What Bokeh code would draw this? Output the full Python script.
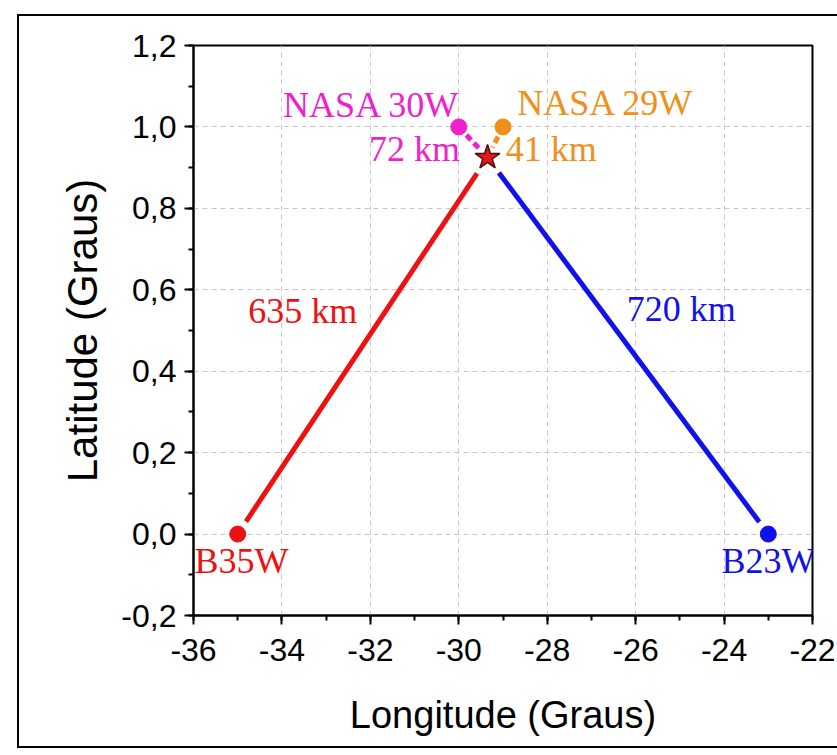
import numpy as np
from bokeh.plotting import figure
from bokeh.models import CustomJSTickFormatter, FixedTicker, Label
from bokeh.embed import file_html
from bokeh.resources import INLINE

# ---- data ----
buoy_names = ["B35W", "B23W"]
buoy_lon = [-35.0, -23.0]
buoy_lat = [0.0, 0.0]
buoy_colors = ["#ee1111", "#1111ee"]
buoy_dist = ["635 km", "720 km"]

nasa_names = ["NASA 30W", "NASA 29W"]
nasa_lon = [-30.0, -29.0]
nasa_lat = [1.0, 1.0]
nasa_colors = ["#ee22cc", "#f0901a"]
nasa_dist = ["72 km", "41 km"]

star_lon = [-29.35]
star_lat = [0.925]

x_range = (-36, -22)
y_range = (-0.2, 1.2)
x_ticks = [-36, -34, -32, -30, -28, -26, -24, -22]
y_ticks = [-0.2, 0.0, 0.2, 0.4, 0.6, 0.8, 1.0, 1.2]

W, H = 837, 755
ML, MR, MT, MB = 193, 25, 45, 140
FW, FH = W - ML - MR, H - MT - MB
sx = FW / (x_range[1] - x_range[0])
sy = FH / (y_range[1] - y_range[0])

p = figure(width=W, height=H, x_range=x_range, y_range=y_range,
           output_backend="svg", toolbar_location=None,
           min_border_left=ML, min_border_right=MR, min_border_top=MT, min_border_bottom=MB)
p.border_fill_alpha = 0
# outer picture frame drawn as CSS background lines behind the transparent canvas
g = "linear-gradient(#000,#000)"
p.styles = {
    "background": (f"{g} 17px 14px / 2px 734px no-repeat, "
                   f"{g} 17px 14px / 820px 2px no-repeat, "
                   f"{g} 17px 746px / 820px 2px no-repeat, #ffffff"),
}

p.outline_line_color = "black"
p.outline_line_width = 2
p.outline_line_alpha = 1

for ax in (p.xaxis[0], p.yaxis[0]):
    ax.axis_line_width = 2
    ax.major_tick_line_width = 2
    ax.minor_tick_line_width = 2
    ax.major_tick_out = 9
    ax.major_tick_in = 0
    ax.minor_tick_out = 5
    ax.minor_tick_in = 0
    ax.major_label_text_font = "Liberation Sans"
    ax.major_label_text_font_size = "32px"
    ax.major_label_text_color = "black"
    ax.axis_label_text_font = "Liberation Sans"
    ax.axis_label_text_font_style = "normal"
    ax.axis_label_text_color = "black"

p.xaxis.axis_label_text_font_size = "38px"
p.yaxis.axis_label_text_font_size = "42px"

p.xaxis.ticker = FixedTicker(ticks=x_ticks, minor_ticks=list(range(-36, -21)))
p.yaxis.ticker = FixedTicker(ticks=y_ticks, minor_ticks=[round(-0.2 + 0.1 * i, 1) for i in range(15)])
p.xaxis.formatter = CustomJSTickFormatter(code="return tick.toFixed(0);")
p.yaxis.formatter = CustomJSTickFormatter(code="return tick.toFixed(1).replace('.', ',');")
p.xaxis.axis_label = "Longitude (Graus)"
p.yaxis.axis_label = "Latitude (Graus)"
p.xaxis.major_label_standoff = 14
p.yaxis.major_label_standoff = 8
p.xaxis.axis_label_standoff = 30
p.yaxis.axis_label_standoff = 12

p.grid.grid_line_color = "#c8c8c8"
p.grid.grid_line_dash = "5 4"
p.grid.grid_line_width = 1


def shrunk(x0, y0, x1, y1, g0, g1):
    dx, dy = (x1 - x0) * sx, (y1 - y0) * sy
    L = np.hypot(dx, dy)
    f0, f1 = g0 / L, 1 - g1 / L
    return ([x0 + (x1 - x0) * f0, x0 + (x1 - x0) * f1],
            [y0 + (y1 - y0) * f0, y0 + (y1 - y0) * f1])

for lon, lat, c in zip(buoy_lon, buoy_lat, buoy_colors):
    xs, ys = shrunk(lon, lat, star_lon[0], star_lat[0], 15, 19)
    p.line(xs, ys, line_color=c, line_width=5)
for lon, lat, c in zip(nasa_lon, nasa_lat, nasa_colors):
    xs, ys = shrunk(lon, lat, star_lon[0], star_lat[0], 11, 11)
    p.line(xs, ys, line_color=c, line_width=5, line_dash="7 4")

p.scatter(buoy_lon, buoy_lat, size=16, fill_color=buoy_colors, line_color=buoy_colors)
p.scatter(nasa_lon, nasa_lat, size=16, fill_color=nasa_colors, line_color=nasa_colors)
p.scatter(star_lon, star_lat, marker="star", size=26, fill_color="#e8141c", line_color="#4a1010", line_width=1.5)

serif = "Liberation Serif"
fs = "36px"
def lab(x, y, t, c, align):
    p.add_layout(Label(x=x, y=y, text=t, text_color=c, text_font=serif, text_font_size=fs,
                       text_align=align, text_baseline="alphabetic"))

lab(-29.97, 1.055, nasa_names[0], nasa_colors[0], "right")
lab(-29.97, 0.945, nasa_dist[0], nasa_colors[0], "right")
lab(-28.68, 1.060, nasa_names[1], nasa_colors[1], "left")
lab(-28.94, 0.945, nasa_dist[1], nasa_colors[1], "left")
lab(-34.76, 0.549, buoy_dist[0], buoy_colors[0], "left")
lab(-26.20, 0.552, buoy_dist[1], buoy_colors[1], "left")
lab(-35.98, -0.065, buoy_names[0], buoy_colors[0], "left")
lab(-21.93, -0.065, buoy_names[1], buoy_colors[1], "right")

open("out.html", "w").write(file_html(p, INLINE))
